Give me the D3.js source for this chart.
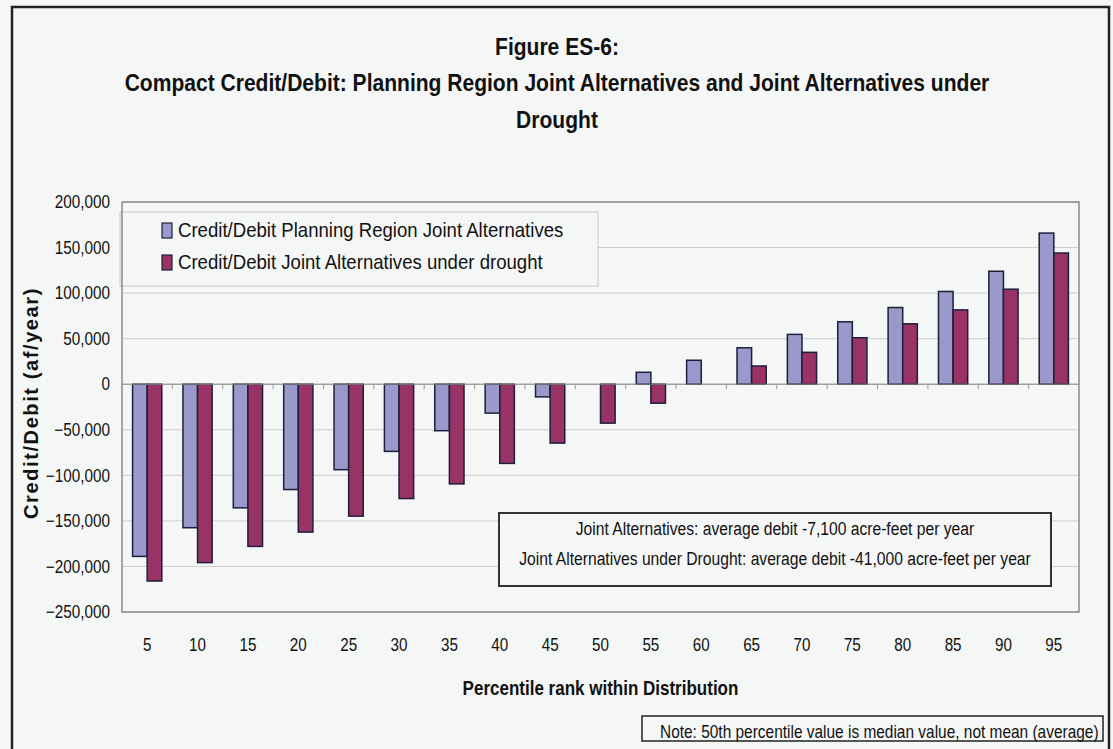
<!DOCTYPE html>
<html>
<head>
<meta charset="utf-8">
<script src="https://cdn.jsdelivr.net/npm/d3@7"></script>
<style>
  html, body { margin: 0; padding: 0; background: #f5f7f6; }
  svg { display: block; }
  .narrow { font-family: "Liberation Sans Narrow", "Arial Narrow", "Liberation Sans", sans-serif; }
  .tick text { font-family: "Liberation Sans Narrow", "Arial Narrow", "Liberation Sans", sans-serif; fill: #111; }
</style>
</head>
<body>
<div class="chart"></div>
<script>
//==================================
// Data
//==================================
var percentiles = ["5", "10", "15", "20", "25", "30", "35", "40", "45", "50",
                   "55", "60", "65", "70", "75", "80", "85", "90", "95"];

var jointAlternatives = [-189000, -157500, -135700, -115600, -93800, -73700, -51000, -31700, -13900, 0,
                         13100, 26300, 40000, 54700, 68500, 84200, 101800, 124000, 165900];

var jointDrought = [-216000, -195800, -178000, -162300, -144800, -125500, -109400, -86900, -64600, -42700,
                    -20800, 0, 20000, 35000, 51000, 66300, 81600, 104300, 144000];

var seriesNames = ["Credit/Debit Planning Region Joint Alternatives",
                   "Credit/Debit Joint Alternatives under drought"];
var seriesColors = ["#9999cc", "#993366"];

var yTicks = [200000, 150000, 100000, 50000, 0, -50000, -100000, -150000, -200000, -250000];

var titleLines = ["Figure ES-6:",
                  "Compact Credit/Debit: Planning Region Joint Alternatives and Joint Alternatives under",
                  "Drought"];
var noteLines = ["Joint Alternatives: average debit -7,100 acre-feet per year",
                 "Joint Alternatives under Drought: average debit -41,000 acre-feet per year"];
var footNote = "Note: 50th percentile value is median value, not mean (average)";

//==================================
// Set up our chart
//==================================
var svgWidth = 1113;
var svgHeight = 749;
var margin = { top: 202, right: 34, bottom: 137, left: 122 };
var width = svgWidth - margin.left - margin.right;
var height = svgHeight - margin.top - margin.bottom;
var bg = "#f5f7f6";

// no narrow font installed, so squeeze text horizontally around its anchor point
function condense(sel, f) {
  sel.each(function() {
    var t = d3.select(this);
    var x = +t.attr("x") || 0;
    var y = +t.attr("y") || 0;
    t.attr("transform", "translate(" + x + "," + y + ") scale(" + f + ",1) translate(" + (-x) + "," + (-y) + ")");
  });
}

var svg = d3.select(".chart")
  .append("svg")
  .attr("width", svgWidth)
  .attr("height", svgHeight);

// outer frame
svg.append("rect")
  .attr("x", 12).attr("y", 7)
  .attr("width", 1097).attr("height", 760)
  .attr("fill", bg)
  .attr("stroke", "#222")
  .attr("stroke-width", 2.5);

// titles
svg.selectAll(".title")
  .data(titleLines)
  .enter()
  .append("text")
  .attr("class", "title narrow")
  .attr("x", 557)
  .attr("y", function(d, i) { return 55 + i * 36.5; })
  .attr("text-anchor", "middle")
  .attr("font-size", "24px")
  .attr("font-weight", "bold")
  .attr("fill", "#111")
  .text(function(d) { return d; })
  .call(condense, 0.877);

var chart = svg.append("g")
  .attr("transform", "translate(" + margin.left + "," + margin.top + ")");

// scales
var x0 = d3.scaleBand()
  .domain(percentiles)
  .range([0, width])
  .paddingInner(0.42)
  .paddingOuter(0.21);

var x1 = d3.scaleBand()
  .domain([0, 1])
  .range([0, x0.bandwidth()]);

var y = d3.scaleLinear()
  .domain([-250000, 200000])
  .range([height, 0]);

// plot background + gridlines
chart.append("rect")
  .attr("width", width).attr("height", height)
  .attr("fill", bg);

chart.append("g")
  .selectAll("line")
  .data(yTicks)
  .enter()
  .append("line")
  .attr("x1", 0).attr("x2", width)
  .attr("y1", function(d) { return y(d); })
  .attr("y2", function(d) { return y(d); })
  .attr("stroke", "#cdcdcd")
  .attr("stroke-width", 1);

// legend
var legend = chart.append("g").attr("transform", "translate(-2,10)");
legend.append("rect")
  .attr("width", 478).attr("height", 74)
  .attr("fill", bg)
  .attr("stroke", "#c8c8c8")
  .attr("stroke-width", 1);
var legendItems = legend.selectAll(".legend-item")
  .data(seriesNames)
  .enter()
  .append("g")
  .attr("transform", function(d, i) { return "translate(42," + (11 + i * 32) + ")"; });
legendItems.append("rect")
  .attr("width", 10).attr("height", 15)
  .attr("fill", function(d, i) { return seriesColors[i]; })
  .attr("stroke", "#1e1e3a")
  .attr("stroke-width", 1.2);
legendItems.append("text")
  .attr("class", "narrow")
  .attr("x", 16).attr("y", 14)
  .attr("font-size", "20px")
  .attr("fill", "#111")
  .text(function(d) { return d; })
  .call(condense, 0.93);

// bars
var groups = chart.selectAll(".group")
  .data(percentiles)
  .enter()
  .append("g")
  .attr("class", "group")
  .attr("transform", function(d) { return "translate(" + x0(d) + ",0)"; });

groups.selectAll("rect")
  .data(function(d, i) {
    return [{ v: jointAlternatives[i], s: 0 }, { v: jointDrought[i], s: 1 }]
      .filter(function(e) { return e.v !== 0; });
  })
  .enter()
  .append("rect")
  .attr("x", function(d) { return x1(d.s); })
  .attr("y", function(d) { return y(Math.max(0, d.v)); })
  .attr("width", x1.bandwidth())
  .attr("height", function(d) { return Math.abs(y(d.v) - y(0)); })
  .attr("fill", function(d) { return seriesColors[d.s]; })
  .attr("stroke", "#1e1e3a")
  .attr("stroke-width", 1.5);

// category axis line at zero, with ticks between categories
chart.append("line")
  .attr("x1", 0).attr("x2", width)
  .attr("y1", y(0)).attr("y2", y(0))
  .attr("stroke", "#888");

chart.append("g")
  .selectAll("line")
  .data(percentiles.slice(1))
  .enter()
  .append("line")
  .attr("x1", function(d) { return x0(d) - x0.step() * x0.paddingInner() / 2; })
  .attr("x2", function(d) { return x0(d) - x0.step() * x0.paddingInner() / 2; })
  .attr("y1", y(0)).attr("y2", y(0) + 5)
  .attr("stroke", "#999");

// plot frame
chart.append("rect")
  .attr("width", width).attr("height", height)
  .attr("fill", "none")
  .attr("stroke", "#8a8a8a")
  .attr("stroke-width", 1.5);

// y axis labels
var leftAxis = d3.axisLeft(y)
  .tickValues(yTicks)
  .tickSize(0)
  .tickPadding(12)
  .tickFormat(d3.format(","));
chart.append("g")
  .call(leftAxis)
  .call(function(g) {
    g.select(".domain").remove();
    g.selectAll("text").attr("font-size", "18px").call(condense, 0.85);
  });

// x axis labels
var bottomAxis = d3.axisBottom(x0).tickSize(0).tickPadding(26);
chart.append("g")
  .attr("transform", "translate(0," + height + ")")
  .call(bottomAxis)
  .call(function(g) {
    g.select(".domain").remove();
    g.selectAll("text").attr("font-size", "19px").call(condense, 0.8);
  });

// axis titles
chart.append("text")
  .attr("transform", "rotate(-90)")
  .attr("x", -201)
  .attr("y", -84)
  .attr("text-anchor", "middle")
  .attr("font-family", "Liberation Sans, Arial, sans-serif")
  .attr("font-size", "20px")
  .attr("font-weight", "bold")
  .attr("letter-spacing", "1.6px")
  .attr("fill", "#111")
  .text("Credit/Debit (af/year)");

chart.append("text")
  .attr("class", "narrow")
  .attr("x", width / 2)
  .attr("y", height + 83)
  .attr("text-anchor", "middle")
  .attr("font-size", "21px")
  .attr("font-weight", "bold")
  .attr("fill", "#111")
  .text("Percentile rank within Distribution")
  .call(condense, 0.81);

// averages box
var note = chart.append("g").attr("transform", "translate(377,311)");
note.append("rect")
  .attr("width", 552).attr("height", 73)
  .attr("fill", bg)
  .attr("stroke", "#333")
  .attr("stroke-width", 2);
note.selectAll("text")
  .data(noteLines)
  .enter()
  .append("text")
  .attr("class", "narrow")
  .attr("x", 276)
  .attr("y", function(d, i) { return 22 + i * 30; })
  .attr("text-anchor", "middle")
  .attr("font-size", "18px")
  .attr("fill", "#111")
  .text(function(d) { return d; })
  .call(condense, 0.87);

// footnote box
var foot = svg.append("g").attr("transform", "translate(642,716)");
foot.append("text")
  .attr("class", "narrow")
  .attr("x", 18).attr("y", 22)
  .attr("font-size", "18px")
  .attr("fill", "#111")
  .text(footNote)
  .call(condense, 0.858);
foot.append("rect")
  .attr("width", 461).attr("height", 25)
  .attr("fill", "none")
  .attr("stroke", "#222")
  .attr("stroke-width", 1.5);
</script>
</body>
</html>
